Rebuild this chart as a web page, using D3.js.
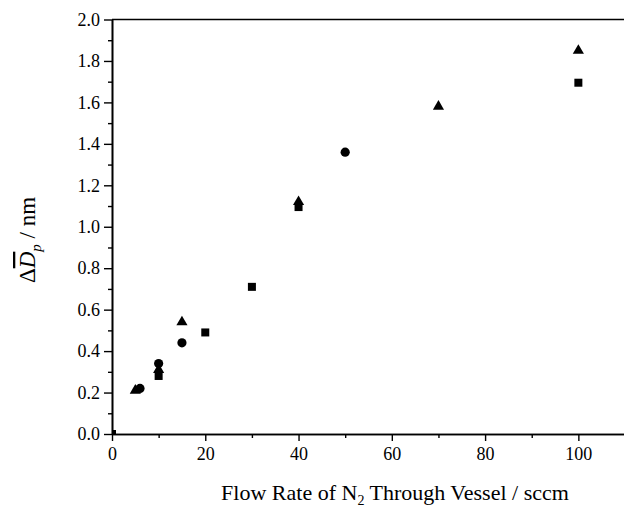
<!DOCTYPE html>
<html>
<head>
<meta charset="utf-8">
<script src="https://cdn.jsdelivr.net/npm/d3@7"></script>
<style>
  body { margin: 0; background: #fff; }
  svg { display: block; }
  text { font-family: 'Liberation Serif', 'Times New Roman', serif; fill: #000; }
</style>
</head>
<body>
<div id="chart"></div>
<script>
// Flow rate (sccm) vs mean diameter change (nm), three data sets
const triangleFlow = [5, 10, 15, 40, 70, 100];
const triangleDp = [0.21, 0.31, 0.54, 1.12, 1.58, 1.85];

const circleFlow = [6, 10, 15, 50];
const circleDp = [0.22, 0.34, 0.44, 1.36];

const squareFlow = [0, 10, 20, 30, 40, 100];
const squareDp = [0.0, 0.28, 0.49, 0.71, 1.095, 1.695];

const xTicks = [0, 20, 40, 60, 80, 100];
const yTicks = [0.0, 0.2, 0.4, 0.6, 0.8, 1.0, 1.2, 1.4, 1.6, 1.8, 2.0];

const width = 624;
const height = 508;
const margin = { top: 19.5, right: -1, bottom: 74, left: 112 };
const serif = "'Liberation Serif', 'Times New Roman', serif";

const svg = d3.select('#chart')
  .append('svg')
  .attr('width', width)
  .attr('height', height);

const x = d3.scaleLinear()
  .domain([0, 110])
  .range([margin.left, width - margin.right]);

const y = d3.scaleLinear()
  .domain([0, 2])
  .range([height - margin.bottom, margin.top]);

// clip so the marker at the origin is cut by the axes
svg.append('defs').append('clipPath').attr('id', 'plot-clip')
  .append('rect')
  .attr('x', x(0))
  .attr('y', y(2))
  .attr('width', x(110) - x(0))
  .attr('height', y(0) - y(2));

const marks = svg.append('g').attr('clip-path', 'url(#plot-clip)');

const zip = (xs, ys) => xs.map((v, i) => [v, ys[i]]);

// squares
marks.selectAll('rect.sq')
  .data(zip(squareFlow, squareDp))
  .join('rect')
  .attr('class', 'sq')
  .attr('x', d => x(d[0]) - 4)
  .attr('y', d => y(d[1]) - 4)
  .attr('width', 8)
  .attr('height', 8)
  .attr('fill', '#000');

// circles
marks.selectAll('circle')
  .data(zip(circleFlow, circleDp))
  .join('circle')
  .attr('cx', d => x(d[0]))
  .attr('cy', d => y(d[1]))
  .attr('r', 4.6)
  .attr('fill', '#000');

// triangles
const tri = d3.symbol().type(d3.symbolTriangle).size(54);
marks.selectAll('path.tri')
  .data(zip(triangleFlow, triangleDp))
  .join('path')
  .attr('class', 'tri')
  .attr('transform', d => `translate(${x(d[0])},${y(d[1])})`)
  .attr('d', tri)
  .attr('fill', '#000');

// axes
const xAxis = d3.axisBottom(x)
  .tickValues(xTicks)
  .tickFormat(d3.format('d'))
  .tickSizeInner(7)
  .tickSizeOuter(0)
  .tickPadding(6);

const xMinor = d3.axisBottom(x)
  .tickValues(d3.range(10, 111, 20))
  .tickFormat('')
  .tickSizeInner(4)
  .tickSizeOuter(0);

const yAxis = d3.axisLeft(y)
  .tickValues(yTicks)
  .tickFormat(d3.format('.1f'))
  .tickSizeInner(8)
  .tickSizeOuter(0)
  .tickPadding(4);

const yMinor = d3.axisLeft(y)
  .tickValues(d3.range(0.1, 2, 0.2))
  .tickFormat('')
  .tickSizeInner(4)
  .tickSizeOuter(0);

const styleAxis = g => {
  g.attr('font-family', serif).attr('font-size', 18);
  g.select('.domain').attr('stroke', '#000').attr('stroke-width', 1.6);
  g.selectAll('.tick line').attr('stroke', '#000').attr('stroke-width', 1.4);
  g.selectAll('.tick text')
    .style('font-family', serif)
    .style('font-size', '18px')
    .attr('fill', '#000');
};

svg.append('g')
  .attr('transform', `translate(0,${y(0)})`)
  .call(xMinor).call(styleAxis);
svg.append('g')
  .attr('transform', `translate(0,${y(0)})`)
  .call(xAxis).call(styleAxis);

svg.append('g')
  .attr('transform', `translate(${x(0)},0)`)
  .call(yMinor).call(styleAxis);
svg.append('g')
  .attr('transform', `translate(${x(0)},0)`)
  .call(yAxis).call(styleAxis);

// top frame line
svg.append('line')
  .attr('x1', x(0))
  .attr('x2', width)
  .attr('y1', y(2))
  .attr('y2', y(2))
  .attr('stroke', '#000')
  .attr('stroke-width', 1.6);

// x label
const xLabel = svg.append('text')
  .attr('x', 395)
  .attr('y', 500)
  .attr('text-anchor', 'middle')
  .attr('font-size', 22);
xLabel.append('tspan').text('Flow Rate of N');
xLabel.append('tspan').attr('font-size', 14).attr('dy', 5).text('2');
xLabel.append('tspan').attr('dy', -5).text(' Through Vessel / sccm');

// y label
const yLabel = svg.append('text')
  .attr('transform', 'translate(35,240) rotate(-90)')
  .attr('text-anchor', 'middle')
  .attr('font-size', 23);
yLabel.append('tspan').text('\u0394');
yLabel.append('tspan')
  .attr('font-style', 'italic')
  .style('text-decoration', 'overline')
  .text('D');
yLabel.append('tspan').attr('font-style', 'italic').attr('font-size', 15).attr('dy', 6).text('p');
yLabel.append('tspan').attr('dy', -6).text(' / nm');
</script>
</body>
</html>
